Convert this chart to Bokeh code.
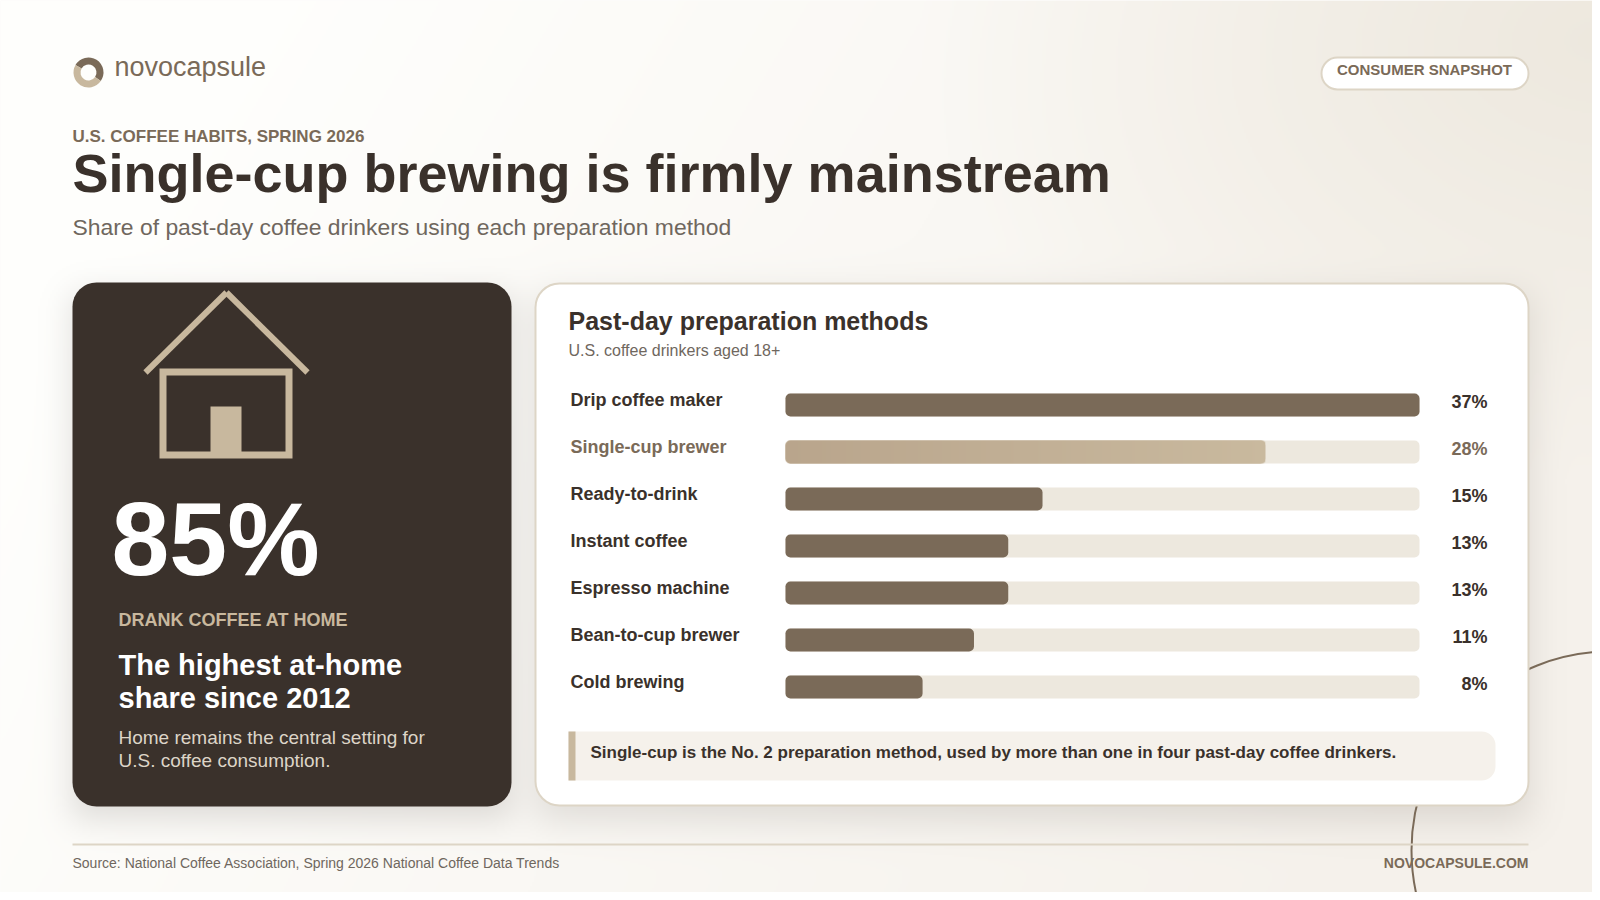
import math

import numpy as np
from bokeh.core.properties import value
from bokeh.embed import file_html
from bokeh.models import Range1d
from bokeh.plotting import figure
from bokeh.resources import INLINE

# chart values
methods = ["Drip coffee maker", "Single-cup brewer", "Ready-to-drink", "Instant coffee",
           "Espresso machine", "Bean-to-cup brewer", "Cold brewing"]
shares = [37, 28, 15, 13, 13, 11, 8]
share_labels = ["37%", "28%", "15%", "13%", "13%", "11%", "8%"]
highlight = "Single-cup brewer"

DARK = "#3A312B"
BROWN = "#7A6A58"
TAN = "#C8B89E"
LINE = "#DDD5C6"
TRACK = "#EDE8DE"
GREY = "#6F675E"
FONT = value("Liberation Sans")

# figure size leaves room for the page margin, ranges below run in picture pixels
X1, Y1 = 1592, 892
W, H = 1600, 900
BAR_X0, BAR_X1 = 785, 1419   # where 0% and the largest share sit
ROW0, ROW_STEP = 404.5, 47
BAR_H = 23
BASE = 0.37   # svg text lands this many em below the asked baseline


def shadow(x0, x1, y0, y1, sigma, alpha, xs, ys):
    erf = np.vectorize(math.erf)
    k = sigma * math.sqrt(2)
    fx = 0.5 * (erf((xs - x0) / k) - erf((xs - x1) / k))
    fy = 0.5 * (erf((ys - y0) / k) - erf((ys - y1) / k))
    return alpha * np.outer(fy, fx)


def background():
    # page gradient and the soft card shadows, half resolution is plenty
    xs = np.arange(0, X1, 2) + 1.0
    ys = np.arange(0, Y1, 2) + 1.0
    gx, gy = np.meshgrid(xs, ys)
    t = np.clip((gx / W * 0.75 + (gy / H) * 0.25 - 0.12) / 0.75, 0, 1)
    start = np.array([254, 254, 252.0])
    end = np.array([245, 241, 235.0])
    rgb = start + (end - start) * t[..., None]
    r = np.hypot((gx - W) / 680, (gy - 40) / 440)
    glow = np.clip(1 - r, 0, 1)[..., None]
    rgb = rgb + (np.array([237, 232, 222.0]) - rgb) * glow
    shade = 1 - (1 - shadow(72, 511, 294, 818, 16, 0.16, xs, ys)) * (1 - shadow(535, 1528, 296, 820, 18, 0.14, xs, ys))
    rgb = rgb + (np.array([58, 49, 43.0]) - rgb) * shade[..., None]
    out = np.empty(gx.shape, dtype=np.uint32)
    view = out.view(np.uint8).reshape(gx.shape + (4,))
    view[..., :3] = np.round(rgb).astype(np.uint8)
    view[..., 3] = 255
    return out


def gradient_bar(width, height, radius):
    # fill for the highlighted bar, transparent outside its rounded corners
    left = np.array([185, 165, 140.0])
    right = np.array([201, 185, 158.0])
    t = np.linspace(0, 1, width)[None, :, None]
    rgb = left + (right - left) * t
    px = np.arange(width) + 0.5
    py = np.arange(height) + 0.5
    gx, gy = np.meshgrid(px, py)
    dx = np.maximum(np.maximum(radius - gx, gx - (width - radius)), 0)
    dy = np.maximum(np.maximum(radius - gy, gy - (height - radius)), 0)
    alpha = np.clip(radius + 0.5 - np.hypot(dx, dy), 0, 1)
    out = np.empty((height, width), dtype=np.uint32)
    view = out.view(np.uint8).reshape((height, width, 4))
    view[..., :3] = np.round(np.broadcast_to(rgb, (height, width, 3))).astype(np.uint8)
    view[..., 3] = np.round(alpha * 255).astype(np.uint8)
    return out


p = figure(width=X1, height=Y1, x_range=Range1d(0, X1), y_range=Range1d(Y1, 0),
           x_axis_location=None, y_axis_location=None,
           output_backend="svg", toolbar_location=None, min_border=0)
p.grid.visible = False
p.outline_line_color = None
p.background_fill_color = "#FBFAF7"
p.border_fill_color = "#FBFAF7"

# data ranges for the bars: percent across, row number down
units = max(shares) / (BAR_X1 - BAR_X0)
p.extra_x_ranges["share"] = Range1d(-BAR_X0 * units, (X1 - BAR_X0) * units)
p.extra_y_ranges["row"] = Range1d((Y1 - ROW0) / ROW_STEP, -ROW0 / ROW_STEP)

p.image_rgba(image=[background()], x=0, y=0, dw=X1, dh=Y1)


def label(x, y, s, size, color, bold=False, align="left"):
    p.text(x=[x], y=[y - BASE * size], text=[s], text_font=FONT, text_font_size=f"{size}px", text_color=color,
           text_font_style="bold" if bold else "normal", text_align=align, text_baseline="alphabetic")


# decorative circle behind the card
p.circle(x=[1610], y=[850], radius=199, fill_color=None, line_color=BROWN, line_width=2)

# header
p.annular_wedge(x=[88], y=[72], inner_radius=8, outer_radius=15, start_angle=math.radians(-35),
                end_angle=math.radians(150), fill_color=BROWN, line_color=None)
p.annular_wedge(x=[88], y=[72], inner_radius=8, outer_radius=15, start_angle=math.radians(150),
                end_angle=math.radians(325), fill_color=TAN, line_color=None)
label(114, 76, "novocapsule", 27, BROWN)
p.quad(left=[1321], right=[1528], top=[57], bottom=[89], border_radius=16, fill_color="white",
       line_color=LINE, line_width=2)
label(1424, 75, "CONSUMER SNAPSHOT", 15, BROWN, bold=True, align="center")
label(72, 142, "U.S. COFFEE HABITS, SPRING 2026", 17, BROWN, bold=True)
label(72, 192, "Single-cup brewing is firmly mainstream", 54, DARK, bold=True)
label(72, 235, "Share of past-day coffee drinkers using each preparation method", 22.9, GREY)

# left panel
p.quad(left=[72], right=[511], top=[282], bottom=[806], border_radius=24, fill_color=DARK, line_color=None)
p.segment(x0=[145, 226], y0=[372, 292], x1=[226, 307], y1=[292, 372], line_color=TAN, line_width=6, line_cap="butt")
p.quad(left=[162.5], right=[288.5], top=[371.5], bottom=[454.5], fill_color=None, line_color=TAN, line_width=7,
       line_join="miter")
p.quad(left=[210], right=[241], top=[406], bottom=[452], fill_color=TAN, line_color=None)
label(111, 577, "85%", 104, "white", bold=True)
label(118, 626, "DRANK COFFEE AT HOME", 18, TAN, bold=True)
label(118, 675, "The highest at-home", 29, "white", bold=True)
label(118, 708, "share since 2012", 29, "white", bold=True)
label(118, 744, "Home remains the central setting for", 19, "#DDD5C8")
label(118, 767, "U.S. coffee consumption.", 19, "#DDD5C8")

# right card
p.quad(left=[535], right=[1528], top=[283], bottom=[805], border_radius=24, fill_color="white",
       line_color=LINE, line_width=2)
label(568, 330, "Past-day preparation methods", 25, DARK, bold=True)
label(568, 356, "U.S. coffee drinkers aged 18+", 16, GREY)

rows = list(range(len(methods)))
bar_colors = [TAN if m == highlight else BROWN for m in methods]
text_colors = [BROWN if m == highlight else DARK for m in methods]
row_height = BAR_H / ROW_STEP
p.hbar(y=rows, left=0, right=max(shares), height=row_height, fill_color=TRACK, line_color=None,
       border_radius=5, x_range_name="share", y_range_name="row")
p.hbar(y=rows, left=0, right=shares, height=row_height, fill_color=bar_colors, line_color=None,
       border_radius=5, x_range_name="share", y_range_name="row")
for row, m in enumerate(methods):
    if m == highlight:
        px_width = int(round(shares[row] / units))
        p.image_rgba(image=[gradient_bar(px_width, BAR_H, 5)], x=0, y=row - row_height / 2, dw=shares[row],
                     dh=row_height, x_range_name="share", y_range_name="row")
p.text(x=[570] * len(rows), y=rows, text=methods, y_range_name="row", y_offset=1.5 - BASE * 18, text_font=FONT,
       text_font_size="18px", text_font_style="bold", text_color=text_colors, text_baseline="alphabetic")
p.text(x=[1487] * len(rows), y=rows, text=share_labels, y_range_name="row", y_offset=3.2 - BASE * 18, text_font=FONT,
       text_font_size="18px", text_font_style="bold", text_color=text_colors, text_align="right",
       text_baseline="alphabetic")

# callout
p.quad(left=[568], right=[1495], top=[731], bottom=[780], border_radius=(0, 14, 14, 0), fill_color="#F5F1EB", line_color=None)
p.quad(left=[568], right=[575], top=[731], bottom=[780], fill_color=TAN, line_color=None)
label(590, 758, "Single-cup is the No. 2 preparation method, used by more than one in four past-day coffee drinkers.",
      17, DARK, bold=True)

# footer
p.segment(x0=[72], y0=[844], x1=[1528], y1=[844], line_color=LINE, line_width=2)
label(72, 868, "Source: National Coffee Association, Spring 2026 National Coffee Data Trends", 14, GREY)
label(1528, 868, "NOVOCAPSULE.COM", 14, BROWN, bold=True, align="right")

open("out.html", "w").write(file_html(p, INLINE))
